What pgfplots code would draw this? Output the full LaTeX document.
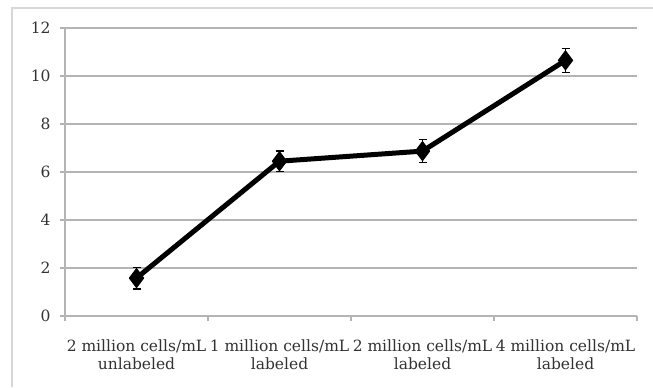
\documentclass[border=0pt]{standalone}
\usepackage{pgfplots}
\pgfplotsset{compat=1.18}
\usepackage{fontspec}
\setmainfont{DejaVu Serif}
\definecolor{gridgray}{RGB}{180,180,180}
\definecolor{framegray}{RGB}{215,215,215}
\definecolor{txt}{RGB}{50,50,50}
\begin{document}
\begin{tikzpicture}[x=1bp,y=1bp]
\useasboundingbox (-65,-71) rectangle (588,316);
\draw[framegray, line width=1.5bp] (-53,-71) -- (-53,308) -- (588,308);
\begin{axis}[
  at={(0,0)}, anchor=south west,
  scale only axis, width=572bp, height=288bp,
  xmin=0.5, xmax=4.5, ymin=0, ymax=12,
  ytick={0,2,...,12},
  xtick={1,2,3,4},
  xticklabels={{2 million cells/mL\\unlabeled},{1 million cells/mL\\labeled},{2 million cells/mL\\labeled},{4 million cells/mL\\labeled}},
  minor xtick={0.5,1.5,2.5,3.5,4.5},
  axis x line*=bottom, axis y line*=left,
  ymajorgrids,
  grid style={gridgray, line width=1.8bp},
  axis line style={gridgray, line width=1.8bp},
  tick align=outside,
  major tick length=5bp, minor tick length=5bp,
  major x tick style={draw=none},
  minor x tick style={gridgray, line width=1.8bp},
  major y tick style={gridgray, line width=1.8bp},
  /pgf/number format/assume math mode=true,
  tick label style={font=\fontsize{15.5bp}{18.5bp}\selectfont, text=txt},
  xticklabel style={align=center, yshift=-15bp},
  yticklabel style={xshift=-6bp},
]
\addplot[black, line width=5bp, line join=round,
  mark=diamond*, mark options={solid, line width=1bp, mark size=9.5bp},
  error bars/.cd, y dir=both, y explicit,
  error bar style={black, line width=1.3bp},
  error mark options={rotate=90, mark size=4bp, black, line width=1.3bp}]
coordinates {
  (1,1.58) +- (0,0.45)
  (2,6.45) +- (0,0.42)
  (3,6.87) +- (0,0.47)
  (4,10.65) +- (0,0.5)
};
\end{axis}
\end{tikzpicture}
\end{document}
